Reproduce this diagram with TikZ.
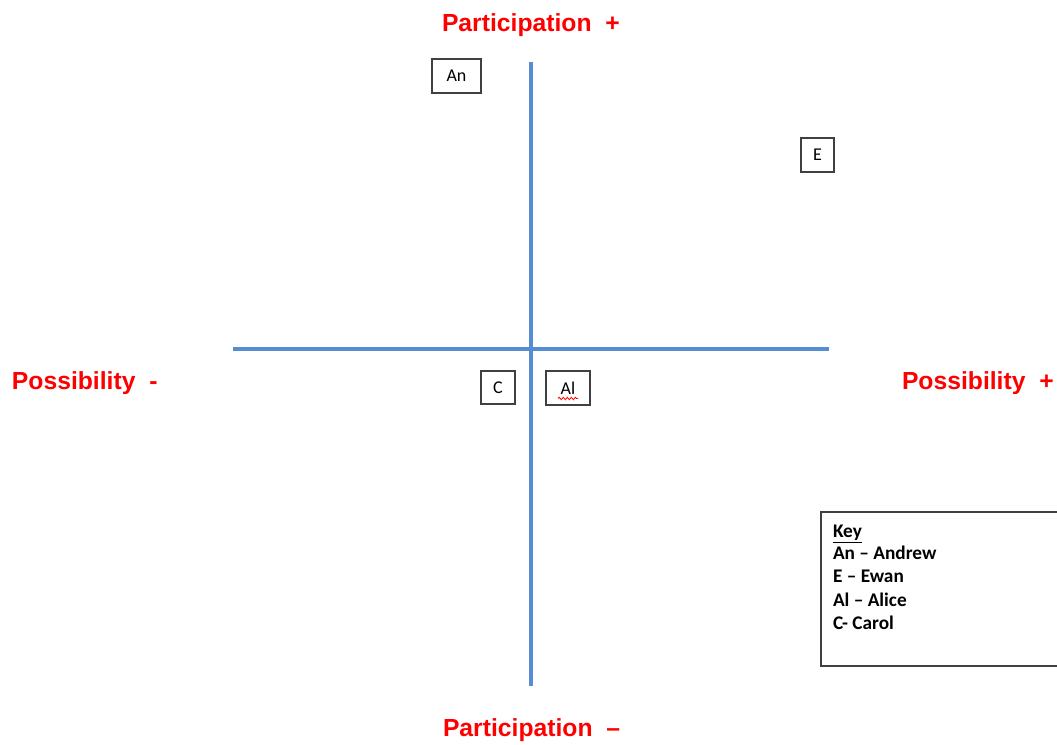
\documentclass[tikz,border=0pt]{standalone}
\usepackage{fontspec}
\setmainfont{Carlito}
\newfontfamily\arialfont{Liberation Sans}
\usetikzlibrary{decorations.pathmorphing}

\definecolor{cff0000}{RGB}{255,0,0}
\definecolor{c568cd2}{RGB}{86,140,210}
\definecolor{c404040}{RGB}{64,64,64}
\definecolor{c000000}{RGB}{0,0,0}

\tikzset{
  axisline/.style={draw=c568cd2,line width=3.6pt,line cap=butt},
  axislabel/.style={text=cff0000,anchor=base west,inner sep=0pt,
    font=\arialfont\bfseries\fontsize{24.7}{28}\selectfont},
  namebox/.style={draw=c404040,fill=white,line width=1.2pt,inner sep=0pt,
    font=\fontsize{18}{20}\selectfont},
  keyline/.style={anchor=base west,inner sep=0pt,
    font=\bfseries\fontsize{19.3}{22}\selectfont},
}

\begin{document}
\begin{tikzpicture}[y=1pt, x=1pt, inner sep=0pt, outer sep=0pt]
  \useasboundingbox (0, 0) rectangle (1057, 744);

  % axes
  \coordinate (ptop) at (531, 682);
  \coordinate (pbot) at (531, 58);
  \coordinate (pleft) at (233, 395);
  \coordinate (pright) at (829, 395);
  \path[axisline] (ptop) -- (pbot);
  \path[axisline] (pleft) -- (pright);

  \node[axislabel] (text101) at (442, 712){Participation\ \ +};
  \node[axislabel] (text102) at (443, 8){Participation\ \ –};
  \node[axislabel] (text103) at (12, 354){Possibility\ \ -};
  \node[axislabel] (text104) at (902, 354){Possibility\ \ +};

  % people
  \node[namebox,minimum width=49pt,minimum height=34pt] (an) at (456.5, 668){An};
  \node[namebox,minimum width=33pt,minimum height=34pt] (e) at (817.5, 589){E};
  \node[namebox,minimum width=34pt,minimum height=33pt] (c) at (498, 356.5){C};
  \node[namebox,minimum width=44pt,minimum height=34pt] (al) at (568, 356){Al};
  \draw[cff0000,line width=0.8pt,decorate,
    decoration={snake,segment length=4pt,amplitude=1.2pt}] (558, 345.5) -- (578, 345.5);

  % key
  \path[draw=c404040,fill=white,line width=1.2pt] (821, 232) rectangle (1062, 78);
  \node[keyline] (key1) at (833, 206.3){\underline{Key}};
  \node[keyline] (key2) at (833, 184){An – Andrew};
  \node[keyline] (key3) at (833, 161){E – Ewan};
  \node[keyline] (key4) at (833, 137.5){Al – Alice};
  \node[keyline] (key5) at (833, 114){C- Carol};

\end{tikzpicture}
\end{document}
